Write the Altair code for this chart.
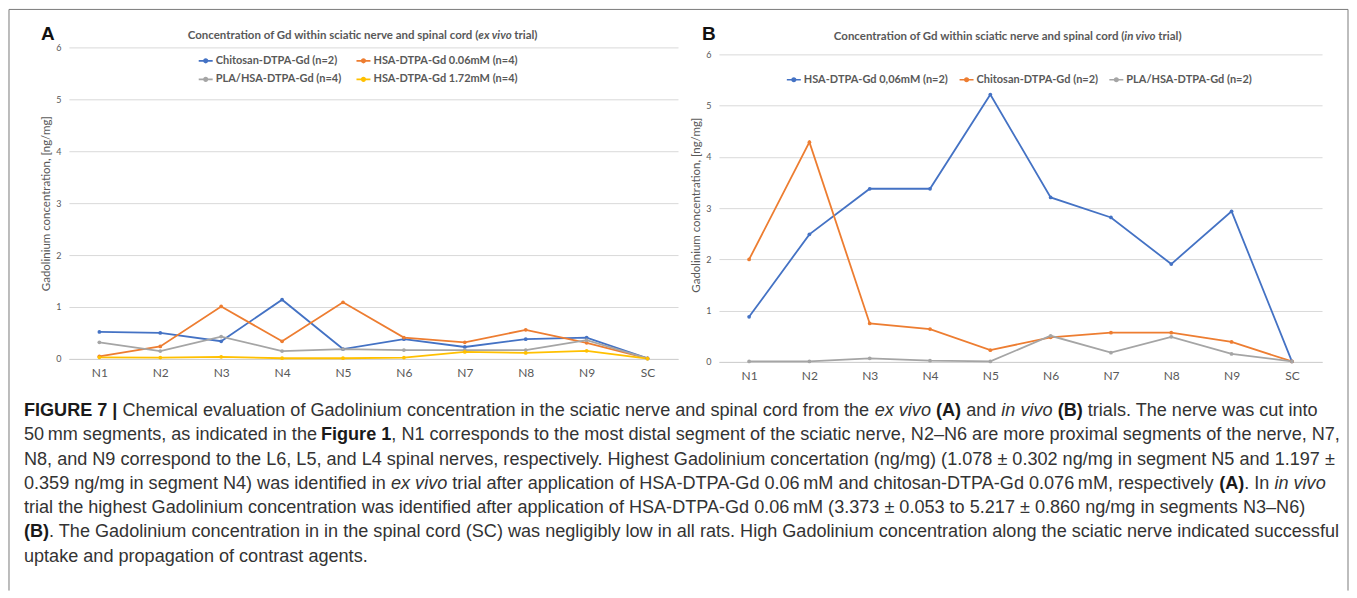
import altair as alt
import pandas as pd

# ---------------- data ----------------
segments = ["N1", "N2", "N3", "N4", "N5", "N6", "N7", "N8", "N9", "SC"]

# Panel A (ex vivo trial)
a_names = ["Chitosan-DTPA-Gd (n=2)", "HSA-DTPA-Gd 0.06mM (n=4)",
           "PLA/HSA-DTPA-Gd (n=4)", "HSA-DTPA-Gd 1.72mM (n=4)"]
a_chitosan = [0.52, 0.50, 0.34, 1.14, 0.19, 0.38, 0.23, 0.38, 0.41, 0.01]
a_hsa_006 = [0.05, 0.24, 1.01, 0.34, 1.09, 0.41, 0.32, 0.56, 0.31, 0.01]
a_pla_hsa = [0.32, 0.15, 0.43, 0.15, 0.19, 0.17, 0.17, 0.17, 0.36, 0.01]
a_hsa_172 = [0.03, 0.025, 0.04, 0.013, 0.013, 0.025, 0.135, 0.116, 0.155, 0.005]

# Panel B (in vivo trial)
b_names = ["HSA-DTPA-Gd 0,06mM (n=2)", "Chitosan-DTPA-Gd (n=2)", "PLA/HSA-DTPA-Gd (n=2)"]
b_hsa = [0.88, 2.49, 3.38, 3.38, 5.22, 3.21, 2.82, 1.91, 2.94, 0.01]
b_chitosan = [2.00, 4.29, 0.75, 0.64, 0.23, 0.48, 0.57, 0.57, 0.39, 0.01]
b_pla_hsa = [0.01, 0.01, 0.07, 0.025, 0.01, 0.51, 0.18, 0.49, 0.155, 0.01]

y_ticks = [0, 1, 2, 3, 4, 5, 6]
y_title = "Gadolinium concentration, [ng/mg]"
title_prefix = "Concentration of Gd within sciatic nerve and spinal cord ("

caption_lines = [
    [("FIGURE 7 |", "b"), (" Chemical evaluation of Gadolinium concentration in the sciatic nerve and spinal cord from the ", "r"),
     ("ex vivo", "i"), (" ", "r"), ("(A)", "b"), (" and ", "r"), ("in vivo", "i"), (" ", "r"), ("(B)", "b"),
     (" trials. The nerve was cut into", "r")],
    [("50\u2009mm segments, as indicated in the ", "r"), ("Figure 1", "b"),
     (", N1 corresponds to the most distal segment of the sciatic nerve, N2\u2013N6 are more proximal segments of the nerve, N7,", "r")],
    [("N8, and N9 correspond to the L6, L5, and L4 spinal nerves, respectively. Highest Gadolinium concertation (ng/mg) (1.078 \u00b1 0.302 ng/mg in segment N5 and 1.197 \u00b1", "r")],
    [("0.359 ng/mg in segment N4) was identified in ", "r"), ("ex vivo", "i"),
     (" trial after application of HSA-DTPA-Gd 0.06\u2009mM and chitosan-DTPA-Gd 0.076\u2009mM, respectively ", "r"),
     ("(A)", "b"), (". In ", "r"), ("in vivo", "i")],
    [("trial the highest Gadolinium concentration was identified after application of HSA-DTPA-Gd 0.06\u2009mM (3.373 \u00b1 0.053 to 5.217 \u00b1 0.860 ng/mg in segments N3\u2013N6)", "r")],
    [("(B)", "b"), (". The Gadolinium concentration in in the spinal cord (SC) was negligibly low in all rats. High Gadolinium concentration along the sciatic nerve indicated successful", "r")],
    [("uptake and propagation of contrast agents.", "r")],
]

# ---------------- styles ----------------
CHART_FONT = "Lato"
CAP_FONT = "Liberation Sans"
GRID = "#D9D9D9"
LABEL = "#595959"
A_COLORS = ["#4472C4", "#ED7D31", "#A5A5A5", "#FFC000"]
B_COLORS = ["#4472C4", "#ED7D31", "#A5A5A5"]
SYMBOL = "M-1,0L1,0M-0.25,0A0.25,0.25,0,1,0,0.25,0A0.25,0.25,0,1,0,-0.25,0Z"

ONE = pd.DataFrame({"k": [0]})

# Helvetica / Arial advance widths (1/1000 em) to lay out mixed-style caption runs
REG = {}
for chars, w in [("ABEKPSVXY", 667), ("CDHNRUw", 722), ("FTZ", 611), ("GOQ", 778),
                 ("Ift ,./:;![]", 278), ("Jckvsxyz", 500), ("Labdeghnopqu0123456789\u2013_", 556),
                 ("Mm", 833), ("W", 944), ("ijl", 222), ("r()-", 333), ("\u00b1", 584), ("|", 260), ("\u2009", 130)]:
    for ch in chars:
        REG[ch] = w
BOLD = {}
for chars, w in [("ABCDHKNRU", 722), ("EPSVXY", 667), ("FLTZbdghnopqu", 611), ("GOQw", 778),
                 ("Iijl ,./:", 278), ("Jacekswvxy0123456789", 556), ("M", 833), ("m", 889), ("W", 944),
                 ("ft()-", 333), ("r", 389), ("z", 500), ("|", 280)]:
    for ch in chars:
        BOLD[ch] = w


def em_width(s, kind):
    table = BOLD if kind == "b" else REG
    return sum(table.get(ch, 556) for ch in s) / 1000.0


def long_df(names, values):
    rows = []
    for name, vals in zip(names, values):
        for seg, v in zip(segments, vals):
            rows.append({"segment": seg, "series": name, "value": v})
    return pd.DataFrame(rows)


def txt(text, x, y, size, weight="normal", style="normal", color=LABEL, align="left", font=CHART_FONT):
    return alt.Chart(ONE).mark_text(
        text=text, align=align, baseline="middle", font=font, fontSize=size,
        fontWeight=weight, fontStyle=style, color=color
    ).encode(x=alt.value(x), y=alt.value(y))


def panel_layers(df, names, colors, ymax, lx, ly, lcols, colpad, letter, letter_x,
                 trial_word, t_split, t_suffix_x, t_y):
    x = alt.X("segment:N", sort=segments, scale=alt.Scale(type="point", padding=0.5),
              axis=alt.Axis(title=None, labelAngle=0, ticks=False, grid=False, domainColor="#CFCFCF",
                            labelFont=CHART_FONT, labelFontSize=12, labelColor=LABEL, labelPadding=9))
    y = alt.Y("value:Q", scale=alt.Scale(domain=[0, ymax], nice=False, zero=False),
              axis=alt.Axis(values=y_ticks, format="d", title=y_title, titleFont=CHART_FONT,
                            titleFontSize=11.5, titleFontWeight="normal", titleColor=LABEL, titlePadding=4,
                            labelFont=CHART_FONT, labelFontSize=9, labelColor=LABEL, labelPadding=8,
                            ticks=False, domain=False, grid=True, gridColor=GRID, gridWidth=1))
    color = alt.Color("series:N", sort=names, scale=alt.Scale(domain=names, range=colors),
                      legend=alt.Legend(title=None, orient="none", legendX=lx, legendY=ly, columns=lcols,
                                        direction="horizontal", symbolType=SYMBOL, symbolSize=196,
                                        symbolStrokeWidth=1.7, labelFont=CHART_FONT, labelFontSize=11,
                                        labelFontWeight="bold", labelColor=LABEL, labelOffset=2,
                                        columnPadding=colpad, rowPadding=5, padding=0))
    lines = alt.Chart(df).mark_line(
        strokeWidth=1.8, point=alt.OverlayMarkDef(filled=True, size=14)
    ).encode(x=x, y=y, color=color)
    return [
        lines,
        txt(title_prefix, t_split, t_y, 11.5, weight="bold", align="right"),
        txt(trial_word, t_split, t_y, 11.5, weight="bold", style="italic"),
        txt("trial)", t_suffix_x, t_y, 11.5, weight="bold"),
        txt(letter, letter_x, -13, 19, weight="bold", color="#111111", font=CAP_FONT, align="center"),
    ]


df_a = long_df(a_names, [a_chitosan, a_hsa_006, a_pla_hsa, a_hsa_172])
df_b = long_df(b_names, [b_hsa, b_chitosan, b_pla_hsa])

layers_a = panel_layers(df_a, a_names, A_COLORS, 6, 129, 5, 2, 11, "A", -21, "ex vivo", 410, 446, -11)
layers_b = panel_layers(df_b, b_names, B_COLORS, 6.14, 67, 24, 3, 7, "B", -10, "in vivo", 406, 440, -10)

# ---------------- caption + frame (positioned relative to panel A's plot area) ----------------
CAP_X0 = -45           # caption left edge
LINE1_PX = 1296        # measured width of first caption line
cap_size = LINE1_PX / sum(em_width(s, k) for s, k in caption_lines[0])
line_y = [364, 388.5, 413, 437, 461.5, 485.5, 510]

cap_layers = []
for li, line in enumerate(caption_lines):
    pos = CAP_X0
    for s, kind in line:
        lead = len(s) - len(s.lstrip(" "))
        stripped = s.strip(" ")
        start = pos + em_width(" " * lead, kind) * cap_size
        if stripped:
            cap_layers.append(txt(
                stripped, start, line_y[li], cap_size,
                weight="bold" if kind == "b" else "normal",
                style="italic" if kind == "i" else "normal",
                color="#1a1a1a" if kind == "b" else "#333333", font=CAP_FONT))
        pos += em_width(s, kind) * cap_size

FRAME = "#7a7a7a"
frame = [
    alt.Chart(ONE).mark_rule(color=FRAME, strokeWidth=1).encode(
        x=alt.value(-60), x2=alt.value(1281), y=alt.value(-38)),
    alt.Chart(ONE).mark_rule(color=FRAME, strokeWidth=1).encode(
        x=alt.value(-60), y=alt.value(-38), y2=alt.value(544)),
    alt.Chart(ONE).mark_rule(color=FRAME, strokeWidth=1).encode(
        x=alt.value(1281), y=alt.value(-38), y2=alt.value(544)),
]

chart_a = alt.layer(*(frame + layers_a + cap_layers)).properties(width=610, height=312)
chart_b = alt.layer(*layers_b).properties(width=604, height=315)

chart = alt.hconcat(
    chart_a, chart_b, spacing=41, bounds="flush"
).resolve_scale(color="independent").properties(
    padding=0, background="white"
).configure_view(strokeWidth=0)

chart.save("out.html", embed_options={"renderer": "svg", "actions": False})
